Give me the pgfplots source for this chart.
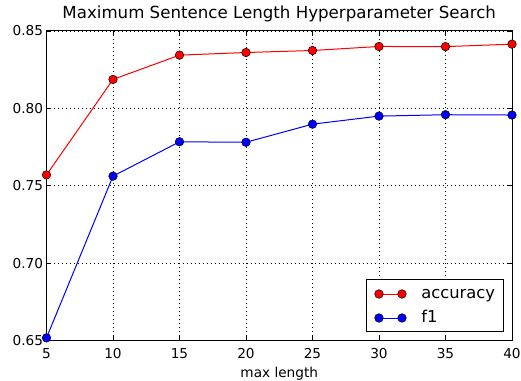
\documentclass[border=0pt]{standalone}
\usepackage{fontspec}
\setmainfont{DejaVu Sans}
\usepackage{pgfplots}
\pgfplotsset{compat=1.18}
\begin{document}
\begin{tikzpicture}
\begin{axis}[
  scale only axis, width=465.5bp, height=309.5bp,
  xmin=5, xmax=40, ymin=0.65, ymax=0.85,
  xtick={5,10,15,20,25,30,35,40},
  ytick={0.65,0.70,0.75,0.80,0.85},
  yticklabel style={/pgf/number format/.cd,fixed,fixed zerofill,precision=2},
  /pgf/number format/assume math mode=true,
  tick label style={font=\fontsize{13.7}{16}\selectfont},
  xticklabel style={anchor=base, yshift=-17.5bp},
  tick align=inside, tick pos=both, major tick length=5bp,
  every tick/.style={black, line width=0.6bp},
  axis line style={black, line width=1bp},
  grid=major,
  major grid style={black, line width=0.5bp, dash pattern=on 1bp off 3bp},
  title={Maximum Sentence Length Hyperparameter Search},
  title style={at={(axis description cs:0.5,1)}, anchor=base, yshift=6.5bp, font=\fontsize{16.7}{19}\selectfont},
  xlabel={max length},
  xlabel style={at={(axis description cs:0.5,0)}, anchor=base, yshift=-36.5bp, font=\fontsize{13.7}{16}\selectfont},
  legend style={at={(axis description cs:1,0)}, anchor=south east, xshift=-8bp, yshift=8bp,
    font=\fontsize{16.4}{19}\selectfont, draw=black, line width=1bp,
    inner xsep=8.5bp, inner ysep=6.5bp, row sep=9bp,
    nodes={inner sep=0pt, text height=12bp, text depth=3bp},
    /tikz/every odd column/.append style={column sep=15bp}},
  legend cell align=left,
  legend image code/.code={%
    \draw[#1] plot coordinates {(0bp,0bp) (23bp,0bp)};},
  clip=false,
]
\addplot[red, line width=1bp, mark=*, mark size=4.3bp, mark options={fill=red, draw=black, line width=0.5bp}]
coordinates {(5,0.757) (10,0.8187) (15,0.8344) (20,0.8361) (25,0.8374) (30,0.8400) (35,0.8399) (40,0.8415)};
\addlegendentry{accuracy}
\addplot[blue, line width=1bp, mark=*, mark size=4.3bp, mark options={fill=blue, draw=black, line width=0.5bp}]
coordinates {(5,0.6517) (10,0.7562) (15,0.7784) (20,0.7781) (25,0.7898) (30,0.7950) (35,0.7959) (40,0.7957)};
\addlegendentry{f1}
\end{axis}
\pgfresetboundingbox
\useasboundingbox (current axis.south west) ++(-46.5bp,-40.5bp) rectangle ++(521bp,381bp);
\end{tikzpicture}
\end{document}
